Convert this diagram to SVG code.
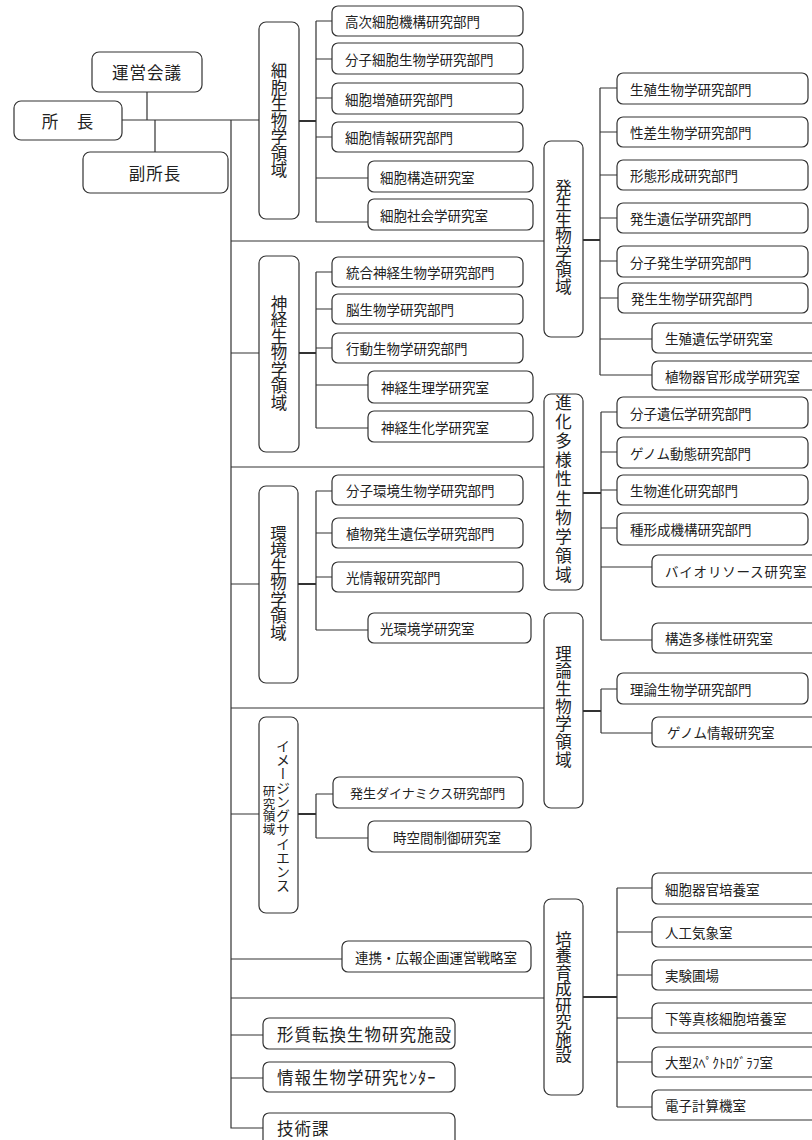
<svg xmlns="http://www.w3.org/2000/svg" width="812" height="1140" viewBox="0 0 812 1140">
<style>
.bx{fill:#fff;stroke:#333;stroke-width:1.2}
.t{font-family:"Noto Sans CJK JP","Noto Sans CJK SC",sans-serif;font-size:13.5px;fill:#222;dominant-baseline:central}
.b{font-size:16.5px;letter-spacing:1px}
.v{font-family:"Noto Sans CJK JP","Noto Sans CJK SC",sans-serif;font-size:16.5px;fill:#222;writing-mode:vertical-rl;text-anchor:middle}
.m{text-anchor:middle}
.ln{stroke:#333;stroke-width:1.2;fill:none}
.th{stroke-width:2}
</style>
<g id="connectors">
<path class="ln" d="M122,120H259M147,92V120M155,120V152"/>
<path class="ln" stroke-width="1.6" d="M231,120V1128H263"/>
<path class="ln" d="M231,241H544M231,353H259M231,467H544M231,584H259M231,708H544M231,814H259M231,959H342M231,998H544M231,1035H263M231,1078H263"/>
<path class="ln th" d="M299,121H316M299,353H316M298,584H316M298,814H316M583,240H600M583,493H601M583,711H601M583,997H617"/>
<path class="ln" d="M316,21V222M316,21H332M316,59H332M316,98H332M316,137H332M316,178H368M316,222H368"/>
<path class="ln" d="M316,272V428M316,272H332M316,309H332M316,348H332M316,385H368M316,428H368"/>
<path class="ln" d="M316,491V630M316,491H332M316,533H332M316,577H332M316,630H368"/>
<path class="ln" d="M316,794V838M316,794H333M316,838H368"/>
<path class="ln" d="M600,88V375M600,88H617M600,132H617M600,175H617M600,218H617M600,261H617M600,298H618M600,339H652M600,375H652"/>
<path class="ln" d="M601,412V640M601,412H617M601,452H617M601,490H617M601,528H617M601,567H652M601,640H652"/>
<path class="ln" d="M601,689V733M601,689H617M601,733H652"/>
<path class="ln" d="M617,888V1107M617,888H652M617,932H652M617,975H652M617,1018H652M617,1062H652M617,1107H652"/>
</g>
<g id="n-uneikaigi"><rect class="bx" x="92" y="52" width="110" height="40" rx="7"/><text class="t b m" x="147" y="72">運営会議</text></g>
<g id="n-shocho"><rect class="bx" x="14" y="101" width="108" height="39" rx="7"/><text class="t b m" x="68" y="120.5">所　長</text></g>
<g id="n-fukushocho"><rect class="bx" x="83" y="152" width="145" height="41" rx="7"/><text class="t b m" x="155" y="172.5">副所長</text></g>

<g id="a-saibo"><rect class="bx" x="259" y="22" width="40" height="197" rx="7"/><text class="v" x="279" y="120.5">細胞生物学領域</text></g>
<g id="a-shinkei"><rect class="bx" x="259" y="256" width="40" height="196" rx="7"/><text class="v" x="279" y="353">神経生物学領域</text></g>
<g id="a-kankyo"><rect class="bx" x="259" y="486" width="39" height="197" rx="7"/><text class="v" x="278.5" y="583">環境生物学領域</text></g>
<g id="a-imaging"><rect class="bx" x="259" y="717" width="39" height="196" rx="7"/><text class="v" x="283" y="816" style="font-size:14px">イメージングサイエンス</text><text class="v" x="269" y="810" style="font-size:12.5px">研究領域</text></g>
<g id="a-hassei"><rect class="bx" x="544" y="141" width="39" height="196" rx="7"/><text class="v" x="563.5" y="237">発生生物学領域</text></g>
<g id="a-shinka"><rect class="bx" x="544" y="394" width="39" height="196" rx="7"/><text class="v" x="563.5" y="490" style="letter-spacing:2.6px">進化多様性生物学領域</text></g>
<g id="a-riron"><rect class="bx" x="544" y="613" width="39" height="195" rx="7"/><text class="v" x="563.5" y="707" style="letter-spacing:1.2px">理論生物学領域</text></g>
<g id="a-baiyo"><rect class="bx" x="544" y="899" width="39" height="196" rx="7"/><text class="v" x="563.5" y="997">培養育成研究施設</text></g>

<g id="u1"><rect class="bx" x="332" y="6" width="191" height="30" rx="6"/><text class="t" x="345" y="21">高次細胞機構研究部門</text></g>
<g id="u2"><rect class="bx" x="332" y="43" width="191" height="31" rx="6"/><text class="t" x="345" y="58.5">分子細胞生物学研究部門</text></g>
<g id="u3"><rect class="bx" x="332" y="83" width="191" height="31" rx="6"/><text class="t" x="345" y="98.5">細胞増殖研究部門</text></g>
<g id="u4"><rect class="bx" x="332" y="122" width="191" height="30" rx="6"/><text class="t" x="345" y="137">細胞情報研究部門</text></g>
<g id="u5"><rect class="bx" x="368" y="161" width="165" height="31" rx="6"/><text class="t" x="380" y="176.5">細胞構造研究室</text></g>
<g id="u6"><rect class="bx" x="368" y="199" width="165" height="31" rx="6"/><text class="t" x="380" y="214.5">細胞社会学研究室</text></g>

<g id="u7"><rect class="bx" x="332" y="257" width="191" height="30" rx="6"/><text class="t" x="346" y="272">統合神経生物学研究部門</text></g>
<g id="u8"><rect class="bx" x="332" y="294" width="191" height="30" rx="6"/><text class="t" x="346" y="309">脳生物学研究部門</text></g>
<g id="u9"><rect class="bx" x="332" y="333" width="191" height="30" rx="6"/><text class="t" x="346" y="348">行動生物学研究部門</text></g>
<g id="u10"><rect class="bx" x="368" y="371" width="165" height="32" rx="6"/><text class="t" x="381" y="387">神経生理学研究室</text></g>
<g id="u11"><rect class="bx" x="368" y="411" width="165" height="31" rx="6"/><text class="t" x="381" y="426.5">神経生化学研究室</text></g>

<g id="u12"><rect class="bx" x="332" y="475" width="191" height="30" rx="6"/><text class="t" x="346" y="490">分子環境生物学研究部門</text></g>
<g id="u13"><rect class="bx" x="332" y="518" width="191" height="30" rx="6"/><text class="t" x="346" y="533">植物発生遺伝学研究部門</text></g>
<g id="u14"><rect class="bx" x="332" y="562" width="191" height="30" rx="6"/><text class="t" x="346" y="577">光情報研究部門</text></g>
<g id="u15"><rect class="bx" x="368" y="613" width="163" height="30" rx="6"/><text class="t" x="380" y="628">光環境学研究室</text></g>

<g id="u16"><rect class="bx" x="333" y="777" width="190" height="31" rx="6"/><text class="t" x="350" y="792.5" style="font-size:13px">発生ダイナミクス研究部門</text></g>
<g id="u17"><rect class="bx" x="368" y="821" width="163" height="31" rx="6"/><text class="t" x="393" y="836.5">時空間制御研究室</text></g>
<g id="u18"><rect class="bx" x="342" y="941" width="189" height="31" rx="6"/><text class="t" x="355" y="956.5">連携・広報企画運営戦略室</text></g>

<g id="u19"><rect class="bx" x="263" y="1018" width="192" height="31" rx="6"/><text class="t b" x="277" y="1033.5">形質転換生物研究施設</text></g>
<g id="u20"><rect class="bx" x="263" y="1062" width="192" height="30" rx="6"/><text class="t b" x="277" y="1077">情報生物学研究ｾﾝﾀｰ</text></g>
<g id="u21"><rect class="bx" x="263" y="1113" width="192" height="40" rx="6"/><text class="t b" x="277" y="1128">技術課</text></g>

<g id="r1"><rect class="bx" x="617" y="73" width="191" height="31" rx="6"/><text class="t" x="630" y="88.5">生殖生物学研究部門</text></g>
<g id="r2"><rect class="bx" x="617" y="117" width="191" height="30" rx="6"/><text class="t" x="630" y="132">性差生物学研究部門</text></g>
<g id="r3"><rect class="bx" x="617" y="160" width="191" height="30" rx="6"/><text class="t" x="630" y="175">形態形成研究部門</text></g>
<g id="r4"><rect class="bx" x="617" y="203" width="191" height="30" rx="6"/><text class="t" x="630" y="218">発生遺伝学研究部門</text></g>
<g id="r5"><rect class="bx" x="617" y="246" width="191" height="31" rx="6"/><text class="t" x="630" y="261.5">分子発生学研究部門</text></g>
<g id="r6"><rect class="bx" x="618" y="283" width="190" height="30" rx="6"/><text class="t" x="631" y="298">発生生物学研究部門</text></g>
<g id="r7"><rect class="bx" x="652" y="323" width="180" height="30" rx="6"/><text class="t" x="665" y="338">生殖遺伝学研究室</text></g>
<g id="r8"><rect class="bx" x="652" y="361" width="180" height="29" rx="6"/><text class="t" x="665" y="375.5">植物器官形成学研究室</text></g>

<g id="r9"><rect class="bx" x="617" y="397" width="191" height="31" rx="6"/><text class="t" x="630" y="412.5">分子遺伝学研究部門</text></g>
<g id="r10"><rect class="bx" x="617" y="437" width="191" height="31" rx="6"/><text class="t" x="630" y="452.5">ゲノム動態研究部門</text></g>
<g id="r11"><rect class="bx" x="617" y="475" width="191" height="30" rx="6"/><text class="t" x="630" y="490">生物進化研究部門</text></g>
<g id="r12"><rect class="bx" x="617" y="513" width="191" height="32" rx="6"/><text class="t" x="630" y="529">種形成機構研究部門</text></g>
<g id="r13"><rect class="bx" x="652" y="555" width="180" height="32" rx="6"/><text class="t" x="665" y="571" style="letter-spacing:0.8px">バイオリソース研究室</text></g>
<g id="r14"><rect class="bx" x="652" y="623" width="180" height="30" rx="6"/><text class="t" x="665" y="638">構造多様性研究室</text></g>

<g id="r15"><rect class="bx" x="617" y="673" width="191" height="31" rx="6"/><text class="t" x="630" y="688.5">理論生物学研究部門</text></g>
<g id="r16"><rect class="bx" x="652" y="717" width="180" height="30" rx="6"/><text class="t" x="667" y="732">ゲノム情報研究室</text></g>

<g id="r17"><rect class="bx" x="652" y="873" width="180" height="31" rx="6"/><text class="t" x="665" y="888.5">細胞器官培養室</text></g>
<g id="r18"><rect class="bx" x="652" y="917" width="180" height="30" rx="6"/><text class="t" x="665" y="932">人工気象室</text></g>
<g id="r19"><rect class="bx" x="652" y="960" width="180" height="30" rx="6"/><text class="t" x="665" y="975">実験圃場</text></g>
<g id="r20"><rect class="bx" x="652" y="1003" width="180" height="30" rx="6"/><text class="t" x="665" y="1018">下等真核細胞培養室</text></g>
<g id="r21"><rect class="bx" x="652" y="1047" width="180" height="30" rx="6"/><text class="t" x="665" y="1062">大型ｽﾍﾟｸﾄﾛｸﾞﾗﾌ室</text></g>
<g id="r22"><rect class="bx" x="652" y="1090" width="180" height="30" rx="6"/><text class="t" x="665" y="1105">電子計算機室</text></g>
</svg>
